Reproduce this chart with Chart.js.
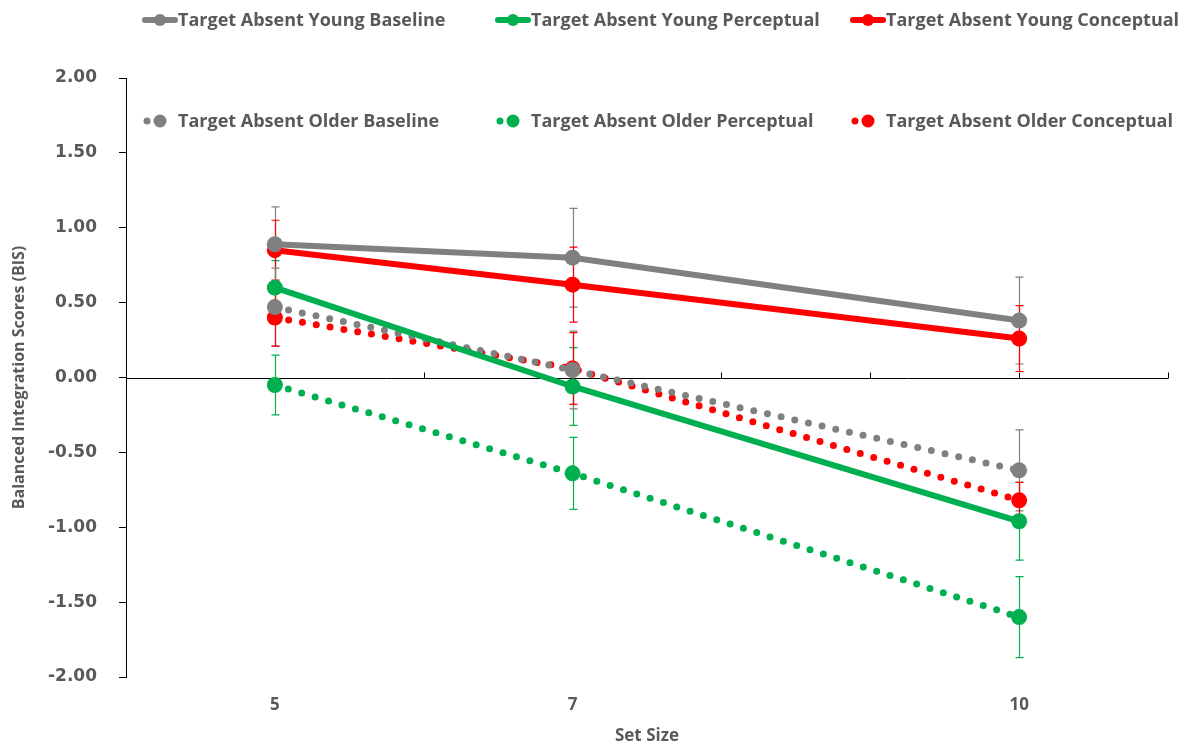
<!DOCTYPE html>
<html>
<head>
<meta charset="utf-8">
<script src="https://cdn.jsdelivr.net/npm/chart.js@4.4.1/dist/chart.umd.min.js"></script>
<style>
  html, body { margin: 0; padding: 0; background: #fff; }
  #wrap { width: 1197px; height: 746px; }
</style>
</head>
<body>
<div id="wrap"><canvas id="chart1"></canvas></div>
<script>
// set sizes on the x axis
const setSizes = [5, 7, 10];

// mean BIS per set size
const youngBaseline   = [0.89, 0.80, 0.38];
const youngPerceptual = [0.60, -0.06, -0.96];
const youngConceptual = [0.85, 0.62, 0.26];
const olderBaseline   = [0.47, 0.05, -0.62];
const olderPerceptual = [-0.05, -0.64, -1.60];
const olderConceptual = [0.40, 0.06, -0.82];

// error bar half-lengths
const youngBaselineErr   = [0.25, 0.33, 0.29];
const youngPerceptualErr = [0.18, 0.26, 0.26];
const youngConceptualErr = [0.20, 0.25, 0.22];
const olderBaselineErr   = [0.26, 0.26, 0.27];
const olderPerceptualErr = [0.20, 0.24, 0.27];
const olderConceptualErr = [0.19, 0.24, 0.12];

const GRAY = '#808080', GREEN = '#00B050', RED = '#FF0000';
const TEXT = '#595959';
const FONT = "'Open Sans', sans-serif";

function series(label, values, errs, color, dotted) {
  return {
    label: label,
    data: setSizes.map((x, i) => ({ x: x, y: values[i] })),
    errors: errs,
    dotted: dotted,
    borderColor: color,
    backgroundColor: color,
    pointBackgroundColor: color,
    pointBorderWidth: 0,
    pointRadius: 8,
    borderWidth: dotted ? 7 : 6,
    borderDash: dotted ? [0, 14] : [],
    borderCapStyle: 'round',
    tension: 0
  };
}

const datasets = [
  series('Target Absent Young Baseline', youngBaseline, youngBaselineErr, GRAY, false),
  series('Target Absent Young Perceptual', youngPerceptual, youngPerceptualErr, GREEN, false),
  series('Target Absent Young Conceptual', youngConceptual, youngConceptualErr, RED, false),
  series('Target Absent Older Baseline', olderBaseline, olderBaselineErr, GRAY, true),
  series('Target Absent Older Perceptual', olderPerceptual, olderPerceptualErr, GREEN, true),
  series('Target Absent Older Conceptual', olderConceptual, olderConceptualErr, RED, true)
];

// horizontal axis line through zero with upward tick marks
const zeroAxis = {
  id: 'zeroAxis',
  beforeDatasetsDraw(chart) {
    const { ctx, chartArea, scales: { x, y } } = chart;
    const y0 = Math.round(y.getPixelForValue(0)) + 0.5;
    ctx.save();
    ctx.strokeStyle = '#000';
    ctx.lineWidth = 1;
    ctx.beginPath();
    ctx.moveTo(chartArea.left, y0);
    ctx.lineTo(chartArea.right, y0);
    x.ticks.forEach(t => {
      if (t.value <= x.min) return;
      const px = Math.round(x.getPixelForValue(t.value)) + 0.5;
      ctx.moveTo(px, y0);
      ctx.lineTo(px, y0 - 6);
    });
    ctx.stroke();
    ctx.restore();
  }
};

// vertical error bars with caps
const errorBars = {
  id: 'errorBars',
  beforeDatasetsDraw(chart) {
    const { ctx, scales: { x, y } } = chart;
    ctx.save();
    ctx.lineWidth = 1.2;
    chart.data.datasets.forEach(ds => {
      ctx.strokeStyle = ds.borderColor;
      ds.data.forEach((p, i) => {
        const e = ds.errors[i];
        const px = Math.round(x.getPixelForValue(p.x)) + 0.5;
        const top = y.getPixelForValue(p.y + e);
        const bot = y.getPixelForValue(p.y - e);
        ctx.beginPath();
        ctx.moveTo(px, top); ctx.lineTo(px, bot);
        ctx.moveTo(px - 4, top); ctx.lineTo(px + 4, top);
        ctx.moveTo(px - 4, bot); ctx.lineTo(px + 4, bot);
        ctx.stroke();
      });
    });
    ctx.restore();
  }
};

// two-row legend like the original (second row sits inside the plot)
const legendRows = {
  id: 'legendRows',
  afterDraw(chart) {
    const ctx = chart.ctx;
    const cols = [142, 495, 850];
    const rows = [20, 121];
    ctx.save();
    ctx.font = 'bold 18px ' + FONT;
    ctx.textBaseline = 'middle';
    chart.data.datasets.forEach((ds, i) => {
      const cx = cols[i % 3];
      const cy = rows[Math.floor(i / 3)];
      ctx.fillStyle = ds.borderColor;
      ctx.strokeStyle = ds.borderColor;
      if (!ds.dotted) {
        ctx.lineWidth = 6;
        ctx.lineCap = 'round';
        ctx.beginPath();
        ctx.moveTo(cx + 3, cy); ctx.lineTo(cx + 33, cy);
        ctx.stroke();
        ctx.beginPath(); ctx.arc(cx + 18, cy, 6, 0, Math.PI * 2); ctx.fill();
      } else {
        ctx.beginPath(); ctx.arc(cx + 5, cy, 3.5, 0, Math.PI * 2); ctx.fill();
        ctx.beginPath(); ctx.arc(cx + 18, cy, 6.5, 0, Math.PI * 2); ctx.fill();
      }
      ctx.fillStyle = TEXT;
      ctx.fillText(ds.label, cx + 36, cy + 1);
    });
    ctx.restore();
  }
};

new Chart(document.getElementById('chart1').getContext('2d'), {
  type: 'line',
  data: { datasets: datasets },
  plugins: [zeroAxis, errorBars, legendRows],
  options: {
    responsive: true,
    maintainAspectRatio: false,
    animation: false,
    layout: { padding: { left: 0, right: 29, top: 78, bottom: 0 } },
    plugins: {
      legend: { display: false },
      tooltip: { enabled: false }
    },
    scales: {
      x: {
        type: 'linear',
        min: 4,
        max: 11,
        afterFit: s => { s.height = 69; },
        ticks: {
          stepSize: 1,
          autoSkip: false,
          maxRotation: 0,
          padding: 18,
          color: TEXT,
          font: { family: FONT, weight: 'bold', size: 17 },
          callback: v => setSizes.includes(v) ? String(v) : ''
        },
        grid: { display: false, drawTicks: false },
        border: { display: false },
        title: {
          display: true,
          text: 'Set Size',
          color: TEXT,
          font: { family: FONT, weight: 'bold', size: 17 },
          padding: { top: 0, bottom: 0 }
        }
      },
      y: {
        min: -2,
        max: 2,
        afterFit: s => { s.width = 126; },
        ticks: {
          stepSize: 0.5,
          padding: 22,
          color: TEXT,
          font: { family: 'DejaVu Sans', weight: 'bold', size: 17 },
          callback: v => v.toFixed(2)
        },
        grid: { drawOnChartArea: false, tickLength: 7, color: '#000' },
        border: { color: '#000', width: 1 },
        title: {
          display: true,
          text: 'Balanced Integration Scores (BIS)',
          color: TEXT,
          font: { family: FONT, weight: 'bold', size: 16 },
          padding: { top: 10, bottom: 0 }
        }
      }
    }
  }
});
</script>
</body>
</html>
